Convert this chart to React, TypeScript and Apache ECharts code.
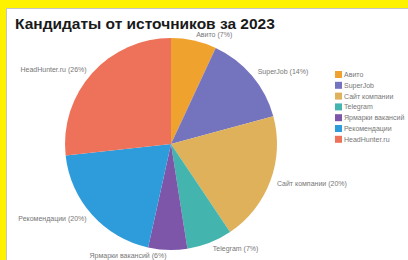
import React, { useEffect, useRef } from "react";
import * as echarts from "echarts";

const titleText = "Кандидаты от источников за 2023";
const sources = [
  "Авито",
  "SuperJob",
  "Сайт компании",
  "Telegram",
  "Ярмарки вакансий",
  "Рекомендации",
  "HeadHunter.ru",
];
const candidates = [7, 14, 20, 7, 6, 20, 27];
const colors = ["#F0A22E", "#7473BE", "#DEB15A", "#43B4AE", "#7D56A9", "#2E9CDA", "#EE7159"];

export default function App() {
  const ref = useRef<HTMLDivElement>(null);
  useEffect(() => {
    document.body.style.margin = "0";
    if (!ref.current) return;
    const chart = echarts.init(ref.current, undefined, { renderer: "svg" });
    chart.setOption({
      animation: false,
      color: colors,
      title: {
        text: titleText,
        left: 10,
        top: 10,
        textStyle: {
          fontFamily: "Liberation Sans, Arial, sans-serif",
          fontSize: 15.5,
          fontWeight: "bold",
          color: "#1a1a1a",
        },
      },
      legend: {
        orient: "vertical",
        left: 330,
        top: 66,
        itemWidth: 7,
        itemHeight: 7,
        itemGap: 3.8,
        icon: "rect",
        textStyle: {
          fontFamily: "Liberation Sans, Arial, sans-serif",
          fontSize: 7,
          color: "#777",
          padding: [0, 0, 0, -3],
        },
        data: sources,
      },
      series: [
        {
          type: "pie",
          center: [171, 144],
          radius: 106,
          startAngle: 90,
          clockwise: true,
          percentPrecision: 0,
          avoidLabelOverlap: false,
          label: {
            show: true,
            position: "outside",
            formatter: "{b} ({d}%)",
            fontFamily: "Liberation Sans, Arial, sans-serif",
            fontSize: 7,
            color: "#777",
            distanceToLabelLine: 1,
          },
          labelLine: { show: false, length: 6, length2: 0 },
          itemStyle: { borderWidth: 0 },
          data: sources.map((name, i) => ({ name, value: candidates[i] })),
        },
      ],
    });
    return () => chart.dispose();
  }, []);
  return (
    <div style={{ position: "relative", width: 408, height: 260, background: "#FFF200", overflow: "hidden" }}>
      <div
        style={{
          position: "absolute",
          left: 6,
          top: 8,
          width: 420,
          height: 280,
          background: "#fff",
          border: "1px solid #c4c4c4",
          boxSizing: "border-box",
        }}
      />
      <div ref={ref} style={{ position: "absolute", left: 0, top: 0, width: 408, height: 260 }} />
    </div>
  );
}
